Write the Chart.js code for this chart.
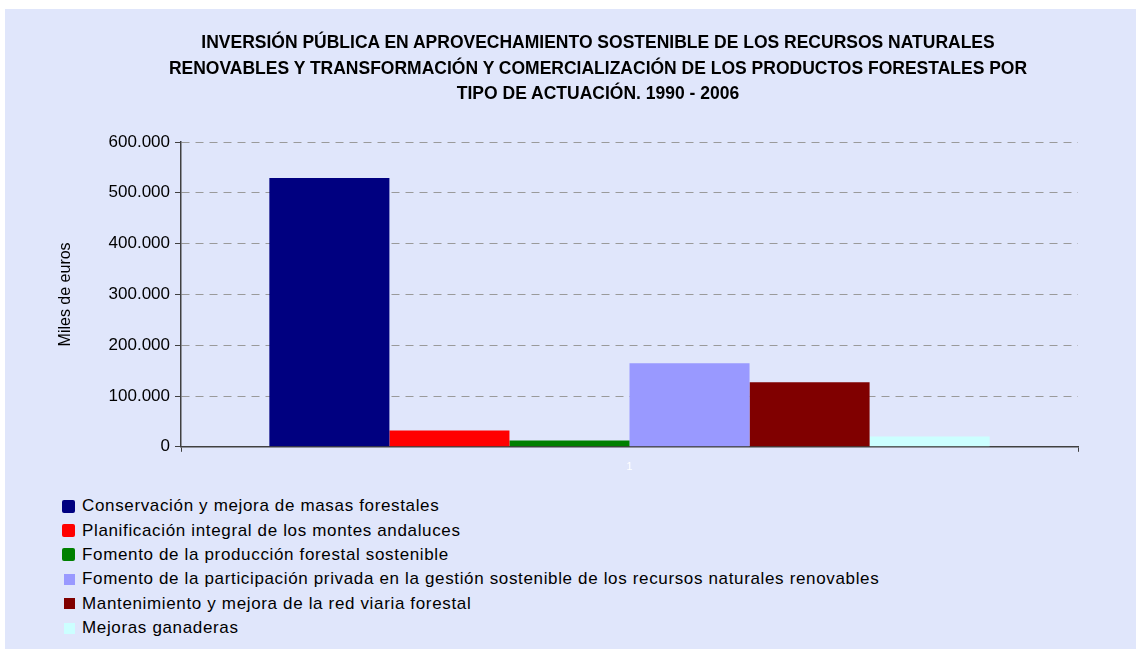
<!DOCTYPE html>
<html>
<head>
<meta charset="utf-8">
<script src="https://cdn.jsdelivr.net/npm/chart.js@4"></script>
<style>
    html, body { margin: 0; padding: 0; background: #ffffff; }
    body { width: 1136px; height: 649px; position: relative; overflow: hidden; font-family: "Liberation Sans", Arial, sans-serif; }
    #panel { position: absolute; left: 5px; top: 9px; width: 1131px; height: 640px; background: #e0e6fb; }
    #chartBox { position: absolute; left: 0; top: 0; width: 1131px; height: 475px; }
    #title { position: absolute; left: 55px; top: 21px; width: 1076px; text-align: center; margin: 0;
             font: bold 17.5px/25.5px "Liberation Sans", Arial, sans-serif; color: #000; }
    #legend { position: absolute; left: 57px; top: 485px; margin: 0; padding: 0; list-style: none; }
    #legend li { height: 24.4px; display: flex; align-items: center; font-size: 17px; letter-spacing: 0.65px; color: #000; white-space: nowrap; }
    #legend .box { display: inline-block; margin-right: 7px; }
</style>
</head>
<body>
<div id="panel">
    <div id="chartBox"><canvas id="investChart"></canvas></div>
    <p id="title">INVERSIÓN PÚBLICA EN APROVECHAMIENTO SOSTENIBLE DE LOS RECURSOS NATURALES<br>RENOVABLES Y TRANSFORMACIÓN Y COMERCIALIZACIÓN DE LOS PRODUCTOS FORESTALES POR<br>TIPO DE ACTUACIÓN. 1990 - 2006</p>
    <ul id="legend"></ul>
</div>
<script>
// Inversión por tipo de actuación, miles de euros (1990 - 2006)
const categories = ["1"];
const seriesNames = [
    "Conservación y mejora de masas forestales",
    "Planificación integral de los montes andaluces",
    "Fomento de la producción forestal sostenible",
    "Fomento de la participación privada en la gestión sostenible de los recursos naturales renovables",
    "Mantenimiento y mejora de la red viaria forestal",
    "Mejoras ganaderas"
];
const seriesValues = [529000, 32000, 12400, 164400, 127000, 20300];
const yTicks = [0, 100000, 200000, 300000, 400000, 500000, 600000];

const palette = ["#000080", "#ff0000", "#008000", "#9999ff", "#800000", "#ccffff"];

function formatMiles(v) {
    return v.toString().replace(/\B(?=(\d{3})+(?!\d))/g, ".");
}

const datasets = seriesNames.map((name, i) => ({
    label: name,
    data: [seriesValues[i]],
    backgroundColor: palette[i],
    borderWidth: 0
}));

const chart = new Chart(document.getElementById("investChart"), {
    type: "bar",
    data: { labels: categories, datasets: datasets },
    options: {
        responsive: true,
        maintainAspectRatio: false,
        animation: false,
        layout: { padding: { left: 47, right: 58, top: 133, bottom: 1 } },
        datasets: { bar: { categoryPercentage: 0.803, barPercentage: 1.0 } },
        plugins: {
            legend: { display: false },
            tooltip: { enabled: false }
        },
        scales: {
            x: {
                grid: { display: true, drawOnChartArea: false, tickLength: 5, color: "#404040" },
                border: { color: "#404040", width: 1.5 },
                ticks: { color: "#ffffff", font: { family: "Liberation Sans", size: 11 }, padding: 9 }
            },
            y: {
                min: 0,
                max: 600000,
                afterFit: scale => { scale.width = 129; },
                afterBuildTicks: scale => { scale.ticks = yTicks.map(v => ({ value: v })); },
                grid: { color: "#9a9a9a", tickColor: "#404040", tickLength: 6, lineWidth: 1 },
                border: { color: "#404040", width: 1.5, dash: [8, 6] },
                ticks: {
                    color: "#000",
                    font: { family: "Liberation Sans", size: 17 },
                    padding: 5,
                    callback: v => formatMiles(v)
                },
                title: {
                    display: true,
                    text: "Miles de euros",
                    color: "#000",
                    font: { family: "Liberation Sans", size: 16 }
                }
            }
        }
    }
});

// Leyenda vertical bajo el gráfico
const legendEl = document.getElementById("legend");
chart.data.datasets.forEach((ds, i) => {
    const li = document.createElement("li");
    const box = document.createElement("span");
    box.className = "box";
    const big = i < 3;
    box.style.width = big ? "13px" : "11px";
    box.style.height = big ? "13px" : "11px";
    box.style.marginLeft = big ? "0px" : "2px";
    box.style.borderRadius = big ? "2px" : "0px";
    box.style.background = ds.backgroundColor;
    li.appendChild(box);
    li.appendChild(document.createTextNode(ds.label));
    legendEl.appendChild(li);
});
</script>
</body>
</html>
